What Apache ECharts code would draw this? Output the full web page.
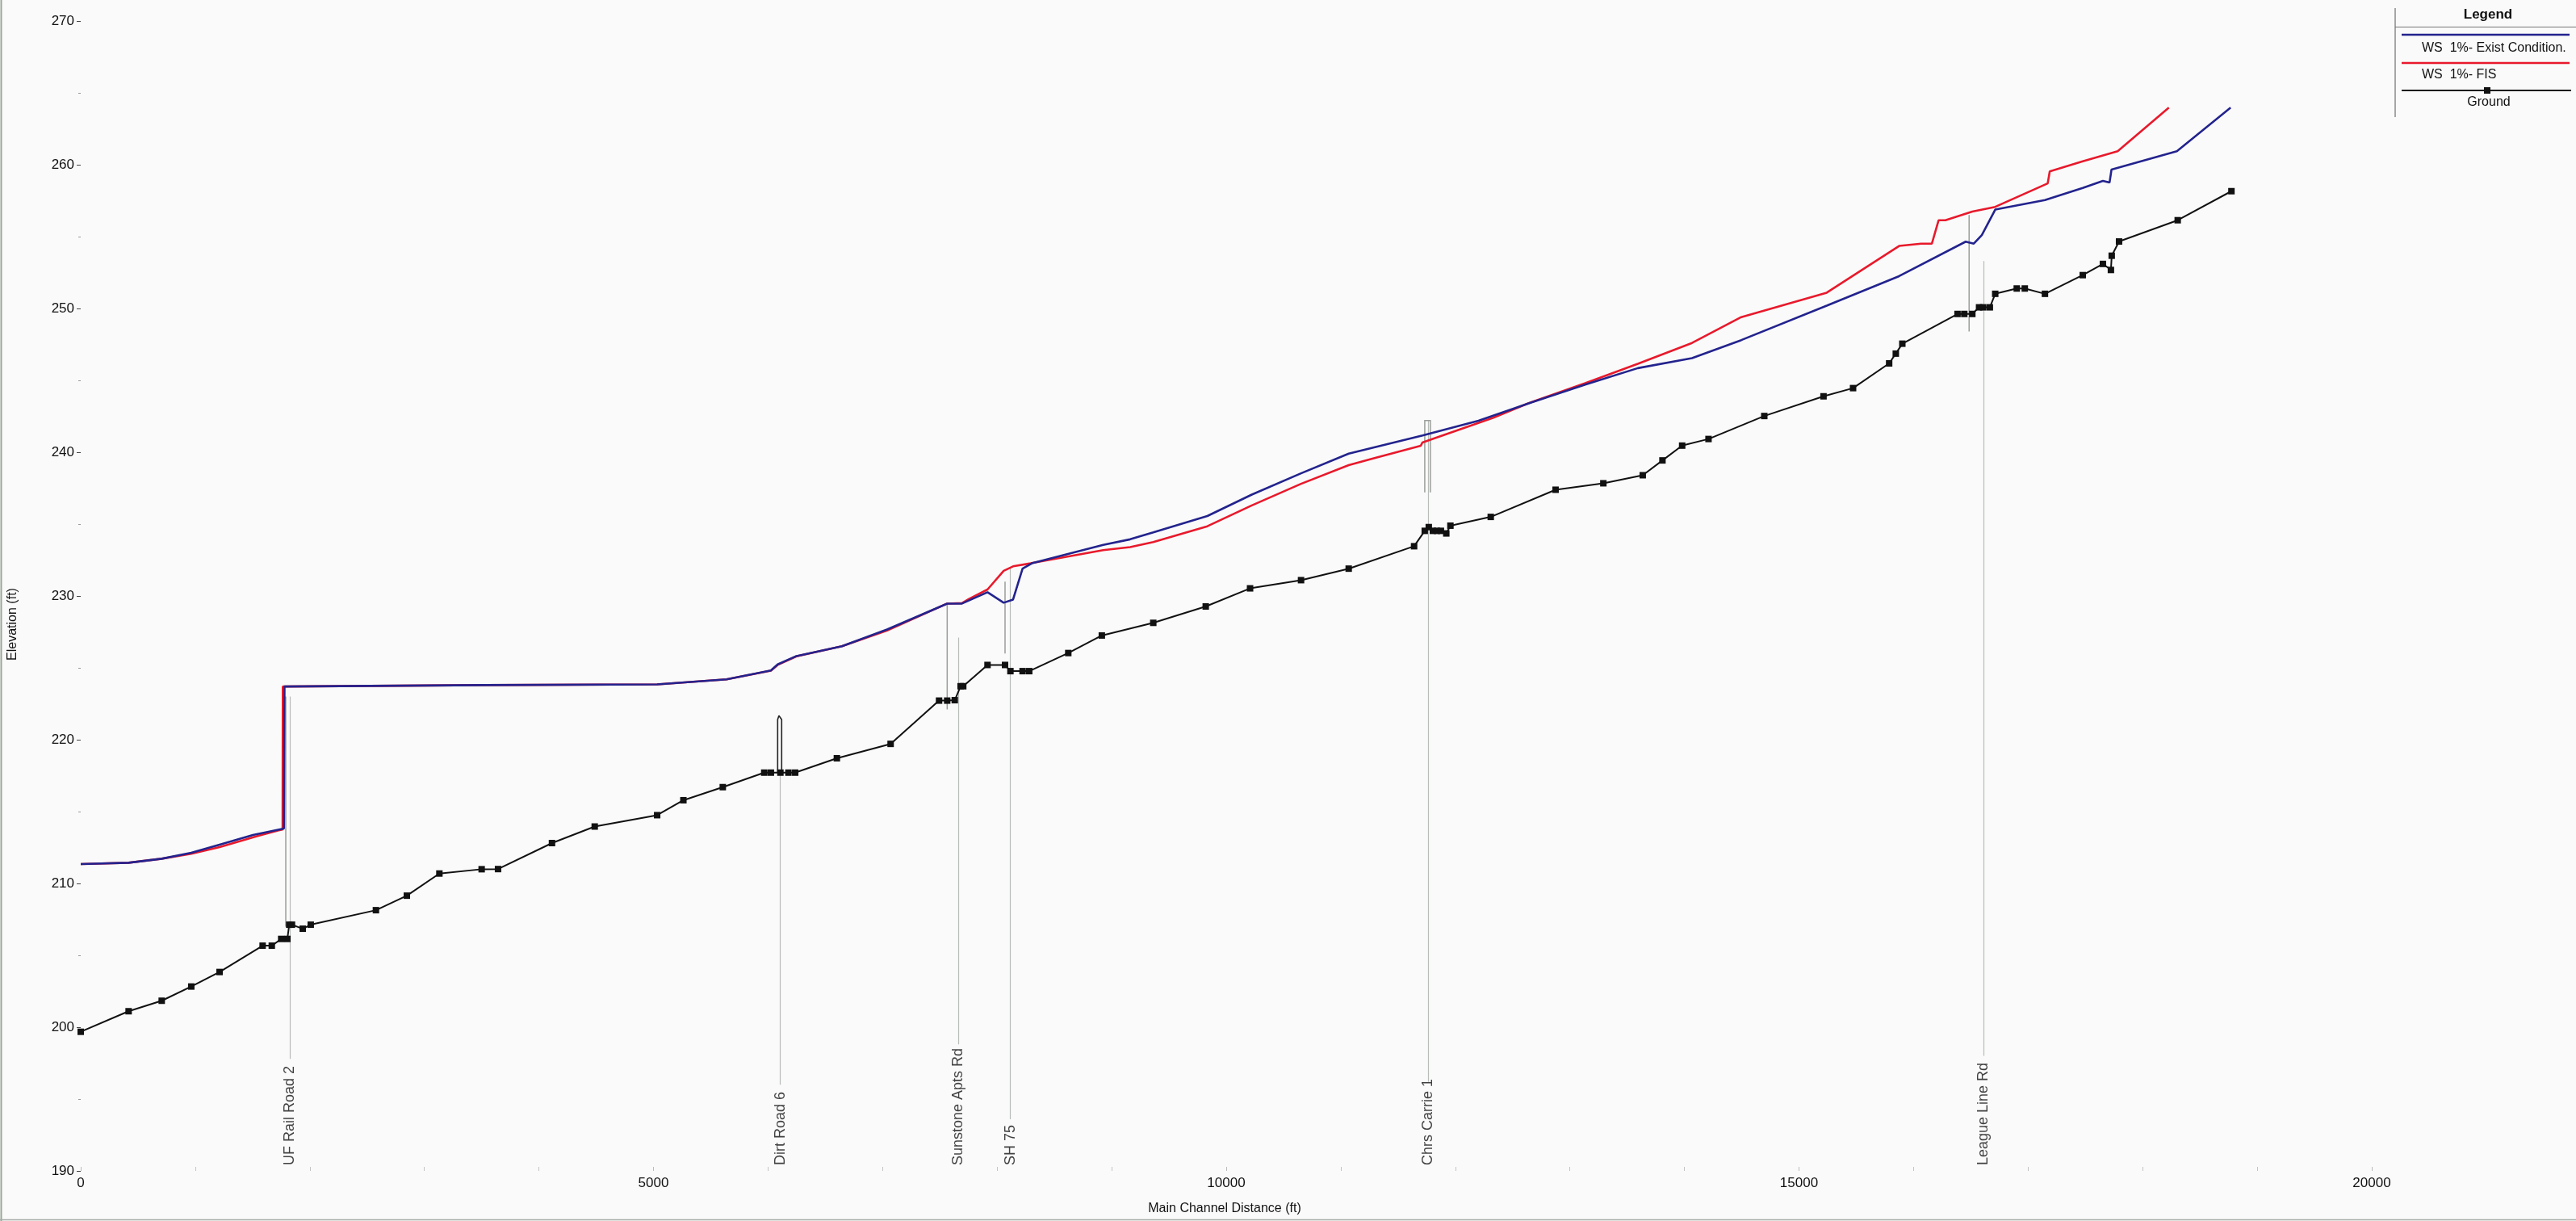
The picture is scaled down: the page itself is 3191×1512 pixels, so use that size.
<!DOCTYPE html>
<html>
<head>
<meta charset="utf-8">
<script src="https://cdn.jsdelivr.net/npm/echarts@6/dist/echarts.min.js"></script>
<style>
  html, body { margin: 0; padding: 0; background: #f9faf9; }
  #chart { width: 3191px; height: 1512px; }
</style>
</head>
<body>
<div id="chart"></div>
<script>
// Main channel profile: distances (ft) and elevations (ft)
const groundDist = [0,418,707,965,1212,1588,1668,1750,1804,1820,1844,1938,2008,2577,2847,3131,3500,3643,4114,4487,5032,5261,5605,5967,6025,6108,6178,6237,6601,7070,7493,7564,7630,7681,7704,7916,8069,8116,8222,8280,8621,8914,9363,9821,10208,10653,11069,11640,11733,11768,11804,11839,11874,11921,11957,12309,12875,13292,13636,13808,13980,14210,14697,15214,15472,15787,15845,15902,16384,16443,16513,16572,16608,16666,16713,16901,16971,17147,17477,17653,17723,17730,17794,18306,18775];
const groundElev = [199.68,201.11,201.84,202.83,203.84,205.67,205.67,206.14,206.14,207.13,207.13,206.85,207.13,208.14,209.15,210.69,210.99,211.0,212.81,213.96,214.75,215.79,216.7,217.71,217.71,217.71,217.71,217.71,218.71,219.71,222.72,222.72,222.75,223.72,223.72,225.2,225.2,224.77,224.77,224.77,226.03,227.25,228.13,229.27,230.53,231.1,231.9,233.46,234.53,234.79,234.53,234.53,234.53,234.35,234.89,235.5,237.39,237.84,238.4,239.43,240.46,240.92,242.52,243.89,244.46,246.18,246.86,247.55,249.62,249.62,249.62,250.08,250.08,250.08,251.02,251.39,251.39,251.02,252.32,253.1,252.68,253.67,254.66,256.14,258.16];

const wsExistDist = [0,418,707,965,1212,1503,1774,1779,3524,5032,5638,6025,6084,6248,6645,7039,7564,7693,7916,8057,8139,8222,8303,8926,9161,9363,9835,10223,10653,11069,11714,12202,12661,13134,13593,14066,14496,15242,15874,16455,16526,16596,16713,17147,17477,17653,17711,17728,18299,18768];
const wsExistElev = [211.35,211.44,211.72,212.13,212.7,213.37,213.82,223.7,223.8,223.85,224.2,224.82,225.24,225.82,226.5,227.67,229.47,229.47,230.26,229.53,229.75,231.9,232.27,233.55,233.94,234.42,235.56,237.05,238.53,239.9,241.16,242.19,243.45,244.71,245.85,246.54,247.8,250.2,252.25,254.65,254.51,255.11,256.88,257.54,258.38,258.88,258.76,259.66,260.94,263.97];

const wsFisDist = [0,418,707,965,1212,1550,1727,1762,1764,3524,5032,5638,6025,6084,6248,6645,7039,7564,7693,7752,7916,8057,8139,8292,8926,9161,9363,9835,10223,10653,11069,11275,11698,11712,12332,12635,13134,13593,14066,14496,15242,15874,16066,16160,16219,16278,16513,16713,17171,17189,17477,17782,18229];
const wsFisElev = [211.35,211.44,211.72,212.06,212.53,213.31,213.69,213.75,223.7,223.8,223.85,224.2,224.8,225.2,225.8,226.5,227.6,229.47,229.5,229.78,230.45,231.75,232.06,232.27,233.19,233.4,233.75,234.85,236.3,237.8,239.1,239.55,240.45,240.67,242.4,243.4,244.8,246.15,247.6,249.4,251.1,254.35,254.51,254.51,256.14,256.14,256.74,257.07,258.7,259.54,260.24,260.94,263.97];

// Crossings (bridges / culverts)
const bridgeNames = ['UF Rail Road 2', 'Dirt Road 6', 'Sunstone Apts Rd', 'SH 75', 'Chrs Carrie 1', 'League Line Rd'];
const bridgeDist = [1825, 6108, 7662, 8116, 11761, 16612];
const bridgeLineLow = [197.8, 196.0, 198.8, 193.6, 196.2, 198.0];
const bridgeLineHigh = [223.0, 217.7, 227.1, 232.0, 242.2, 253.3];
const bridgeLabelElev = 190.84;

// Deck / pier outlines at the crossings
const deckOutlines = [
  [[1790, 207.0], [1790, 223.0]],
  [[7564, 222.1], [7564, 229.4]],
  [[8069, 226.0], [8069, 231.0]],
  [[11733, 237.2], [11733, 242.2], [11782, 242.2], [11782, 237.2]],
  [[16485, 248.4], [16485, 256.5]]
];
const dirtRoadDeck = [[6084, 217.7], [6084, 221.4], [6095, 221.67], [6119, 221.4], [6119, 217.7]];

// Axis ranges and tick steps
const xMin = 0, xMax = 20000, xStep = 5000;
const yMin = 190, yMax = 270, yStep = 10;

const zip = (xs, ys) => xs.map((x, i) => [x, ys[i]]);
const NARROW = "'Liberation Sans Narrow', 'Liberation Sans', Arial, sans-serif";

const chart = echarts.init(document.getElementById('chart'), null, { renderer: 'canvas' });

const option = {
  backgroundColor: '#f9faf9',
  animation: false,
  grid: { left: 100, right: 253, top: 26, bottom: 62, outerBoundsMode: 'none' },
  xAxis: {
    type: 'value', min: xMin, max: xMax, interval: xStep,
    axisLine: { show: false },
    axisTick: { show: true, inside: true, length: 5, lineStyle: { color: '#bbbbbb', width: 1 } },
    minorTick: { show: true, splitNumber: 5, length: 5, lineStyle: { color: '#c4c4c4', width: 1 } },
    splitLine: { show: false },
    axisLabel: { fontFamily: NARROW, fontSize: 17, color: '#111', margin: 7, formatter: v => String(v) }
  },
  yAxis: {
    type: 'value', min: yMin, max: yMax, interval: yStep,
    axisLine: { show: false },
    axisTick: { show: true, length: 5, lineStyle: { color: '#444', width: 1 } },
    minorTick: { show: true, splitNumber: 2, length: 3, lineStyle: { color: '#999', width: 1 } },
    splitLine: { show: false },
    axisLabel: { fontFamily: NARROW, fontSize: 17, color: '#111', margin: 8, formatter: v => String(v) }
  },
  series: [
    {
      name: 'bridge lines', type: 'lines', coordinateSystem: 'cartesian2d', z: 1,
      silent: true,
      lineStyle: { color: '#b9bdb9', width: 1.2, opacity: 1 },
      data: bridgeDist.map((d, i) => ({ coords: [[d, bridgeLineLow[i]], [d, bridgeLineHigh[i]]] }))
    },
    {
      name: 'deck outlines', type: 'lines', coordinateSystem: 'cartesian2d', polyline: true, z: 1,
      silent: true,
      lineStyle: { color: '#9a9e9a', width: 1.5, opacity: 1 },
      data: deckOutlines.map(c => ({ coords: c }))
    },
    {
      name: 'Dirt Road 6 deck', type: 'line', z: 3, symbol: 'none',
      lineStyle: { color: '#222', width: 1.6 },
      data: dirtRoadDeck
    },
    {
      name: 'WS 1%- Exist Condition.', type: 'line', z: 4, symbol: 'none',
      lineStyle: { color: '#23238e', width: 2.6 },
      data: zip(wsExistDist, wsExistElev)
    },
    {
      name: 'WS 1%- FIS', type: 'line', z: 3, symbol: 'none',
      lineStyle: { color: '#e8192c', width: 2.6 },
      data: zip(wsFisDist, wsFisElev)
    },
    {
      name: 'Ground', type: 'line', z: 5, symbol: 'rect', symbolSize: 8,
      lineStyle: { color: '#111', width: 2 },
      itemStyle: { color: '#111' },
      data: zip(groundDist, groundElev)
    },
    {
      name: 'bridge labels', type: 'scatter', z: 6, symbolSize: 0, silent: true,
      data: bridgeDist.map((d, i) => ({ value: [d, bridgeLabelElev], name: bridgeNames[i] })),
      label: {
        show: true, position: 'inside', rotate: 90, align: 'left', verticalAlign: 'middle',
        offset: [-8, 0], formatter: p => p.name,
        fontFamily: "'Liberation Sans', Arial, sans-serif", fontSize: 18, color: '#111'
      }
    }
  ],
  graphic: [
    // scan edges
    { type: 'line', shape: { x1: 1.5, y1: 0, x2: 1.5, y2: 1512 }, style: { stroke: '#9aa69a', lineWidth: 2 } },
    { type: 'line', shape: { x1: 0, y1: 1510.5, x2: 3191, y2: 1510.5 }, style: { stroke: '#a8aca8', lineWidth: 1.5 } },
    // axis titles
    { type: 'text', x: 1517, y: 1497, style: { text: 'Main Channel Distance (ft)', font: "16px " + NARROW, fill: '#111', textAlign: 'center', textVerticalAlign: 'middle' } },
    { type: 'text', x: 16, y: 773, rotation: Math.PI / 2, style: { text: 'Elevation (ft)', font: "16px " + NARROW, fill: '#111', textAlign: 'center', textVerticalAlign: 'middle' } },
    // legend box
    { type: 'line', shape: { x1: 2967, y1: 10, x2: 2967, y2: 145 }, style: { stroke: '#8a8a8a', lineWidth: 1.5 } },
    { type: 'text', x: 3082, y: 18, style: { text: 'Legend', font: "bold 17px " + NARROW, fill: '#111', textAlign: 'center', textVerticalAlign: 'middle' } },
    { type: 'line', shape: { x1: 2967, y1: 33.5, x2: 3191, y2: 33.5 }, style: { stroke: '#777', lineWidth: 1.2 } },
    { type: 'line', shape: { x1: 2975, y1: 43, x2: 3183, y2: 43 }, style: { stroke: '#23238e', lineWidth: 2.6 } },
    { type: 'text', x: 3000, y: 60, style: { text: 'WS  1%- Exist Condition.', font: "16px " + NARROW, fill: '#111', textAlign: 'left', textVerticalAlign: 'middle' } },
    { type: 'line', shape: { x1: 2975, y1: 78, x2: 3183, y2: 78 }, style: { stroke: '#e8192c', lineWidth: 2.6 } },
    { type: 'text', x: 3000, y: 93, style: { text: 'WS  1%- FIS', font: "16px " + NARROW, fill: '#111', textAlign: 'left', textVerticalAlign: 'middle' } },
    { type: 'line', shape: { x1: 2975, y1: 112, x2: 3185, y2: 112 }, style: { stroke: '#111', lineWidth: 2 } },
    { type: 'rect', shape: { x: 3077, y: 108, width: 8, height: 8 }, style: { fill: '#111' } },
    { type: 'text', x: 3083, y: 127, style: { text: 'Ground', font: "16px " + NARROW, fill: '#111', textAlign: 'center', textVerticalAlign: 'middle' } }
  ]
};

chart.setOption(option);
</script>
</body>
</html>
